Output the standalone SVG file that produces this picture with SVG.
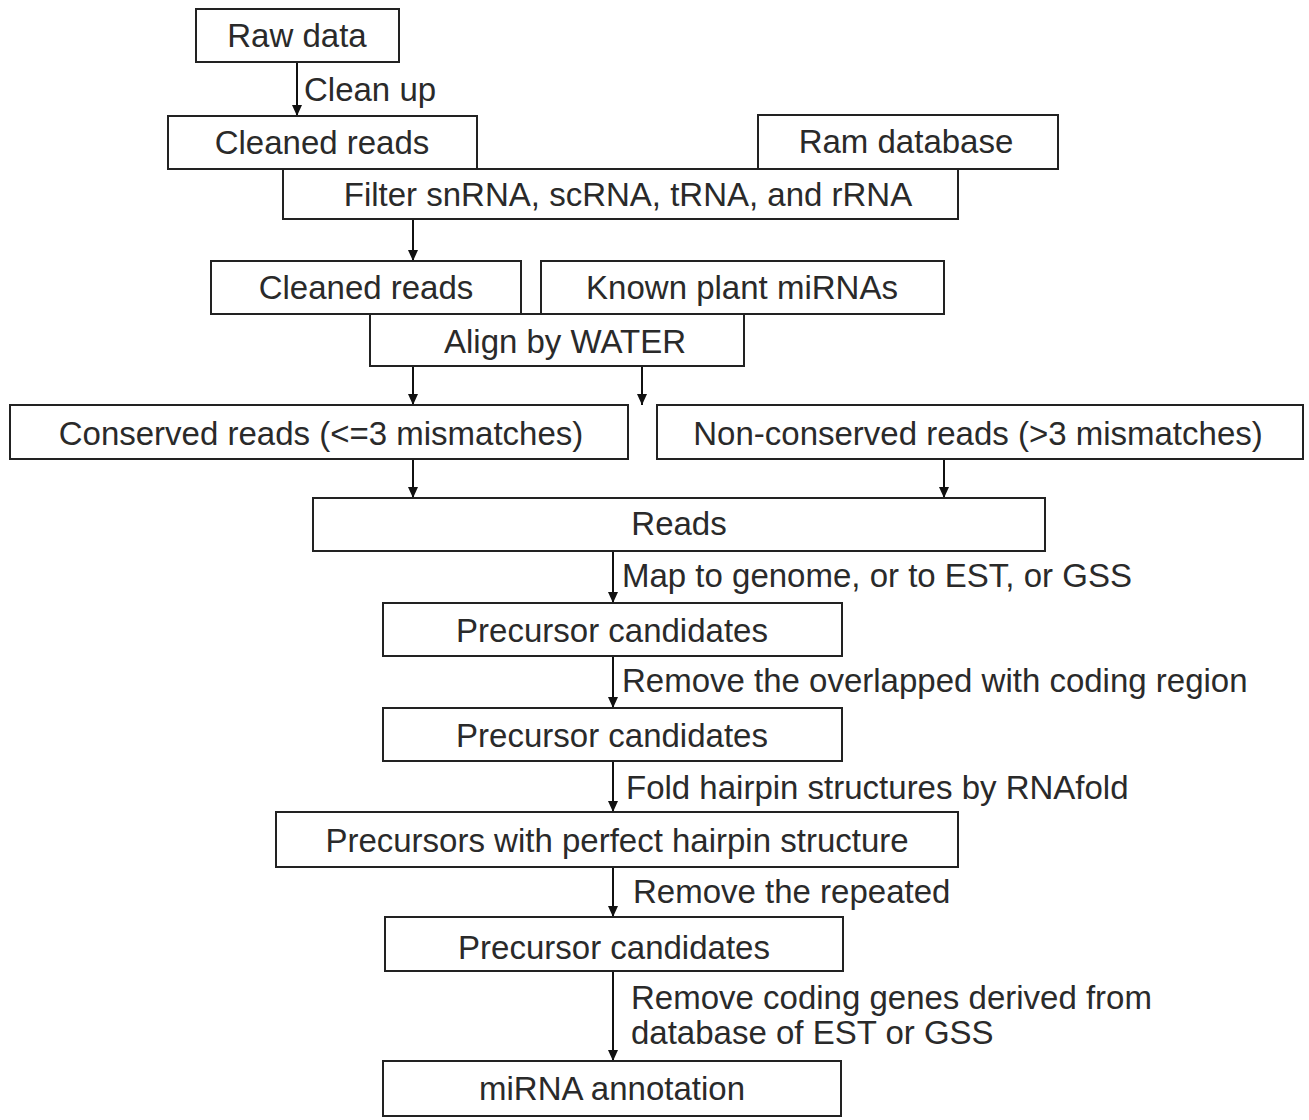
<svg xmlns="http://www.w3.org/2000/svg" width="1309" height="1120" viewBox="0 0 1309 1120">
<defs>
<marker id="arr" markerWidth="11" markerHeight="10" refX="11" refY="5" orient="auto" markerUnits="userSpaceOnUse" viewBox="0 0 11 10">
<path d="M0,0 L11,5 L0,10 Z" fill="#111"/>
</marker>
<style>
.box{fill:#fff;stroke:#222;stroke-width:2}
.t{font-family:"Liberation Sans",Arial,sans-serif;font-size:33px;fill:#2a2a2a;text-anchor:middle}
.l{font-family:"Liberation Sans",Arial,sans-serif;font-size:33px;fill:#2a2a2a}
.c{stroke:#111;stroke-width:2;fill:none}
</style>
</defs>
<rect width="1309" height="1120" fill="#fff"/>
<g id="connectors">
<line class="c" x1="297" y1="62" x2="297" y2="116" marker-end="url(#arr)"/>
<line class="c" x1="413" y1="219" x2="413" y2="261" marker-end="url(#arr)"/>
<line class="c" x1="413" y1="366" x2="413" y2="405" marker-end="url(#arr)"/>
<line class="c" x1="642" y1="366" x2="642" y2="405" marker-end="url(#arr)"/>
<line class="c" x1="413" y1="459" x2="413" y2="498" marker-end="url(#arr)"/>
<line class="c" x1="944" y1="459" x2="944" y2="498" marker-end="url(#arr)"/>
<line class="c" x1="613" y1="551" x2="613" y2="603" marker-end="url(#arr)"/>
<line class="c" x1="613" y1="656" x2="613" y2="708" marker-end="url(#arr)"/>
<line class="c" x1="613" y1="761" x2="613" y2="812" marker-end="url(#arr)"/>
<line class="c" x1="613" y1="867" x2="613" y2="917" marker-end="url(#arr)"/>
<line class="c" x1="613" y1="971" x2="613" y2="1061" marker-end="url(#arr)"/>
<text class="l" x="304" y="101">Clean up</text>
<text class="l" x="622" y="587">Map to genome, or to EST, or GSS</text>
<text class="l" x="622" y="692">Remove the overlapped with coding region</text>
<text class="l" x="626" y="799">Fold hairpin structures by RNAfold</text>
<text class="l" x="633" y="903">Remove the repeated</text>
<text class="l" x="631" y="1009">Remove coding genes derived from</text>
<text class="l" x="631" y="1044">database of EST or GSS</text>
</g>
<g id="raw-data"><rect class="box" x="196" y="9" width="203" height="53"/><text class="t" x="297" y="47">Raw data</text></g>
<g id="filter"><rect class="box" x="283" y="169" width="675" height="50"/><text class="t" x="628" y="206">Filter snRNA, scRNA, tRNA, and rRNA</text></g>
<g id="cleaned-reads-1"><rect class="box" x="168" y="116" width="309" height="53"/><text class="t" x="322" y="154">Cleaned reads</text></g>
<g id="ram-database"><rect class="box" x="758" y="115" width="300" height="54"/><text class="t" x="906" y="153">Ram database</text></g>
<g id="align"><rect class="box" x="370" y="314" width="374" height="52"/><text class="t" x="565" y="353">Align by WATER</text></g>
<g id="cleaned-reads-2"><rect class="box" x="211" y="261" width="310" height="53"/><text class="t" x="366" y="299">Cleaned reads</text></g>
<g id="known-mirnas"><rect class="box" x="541" y="261" width="403" height="53"/><text class="t" x="742" y="299">Known plant miRNAs</text></g>
<g id="conserved"><rect class="box" x="10" y="405" width="618" height="54"/><text class="t" x="321" y="445">Conserved reads (&lt;=3 mismatches)</text></g>
<g id="non-conserved"><rect class="box" x="657" y="405" width="646" height="54"/><text class="t" x="978" y="445">Non-conserved reads (&gt;3 mismatches)</text></g>
<g id="reads"><rect class="box" x="313" y="498" width="732" height="53"/><text class="t" x="679" y="535">Reads</text></g>
<g id="precursor-1"><rect class="box" x="383" y="603" width="459" height="53"/><text class="t" x="612" y="642">Precursor candidates</text></g>
<g id="precursor-2"><rect class="box" x="383" y="708" width="459" height="53"/><text class="t" x="612" y="747">Precursor candidates</text></g>
<g id="perfect-hairpin"><rect class="box" x="276" y="812" width="682" height="55"/><text class="t" x="617" y="852">Precursors with perfect hairpin structure</text></g>
<g id="precursor-3"><rect class="box" x="385" y="917" width="458" height="54"/><text class="t" x="614" y="959">Precursor candidates</text></g>
<g id="mirna-annotation"><rect class="box" x="383" y="1061" width="458" height="55"/><text class="t" x="612" y="1100">miRNA annotation</text></g>
</svg>
